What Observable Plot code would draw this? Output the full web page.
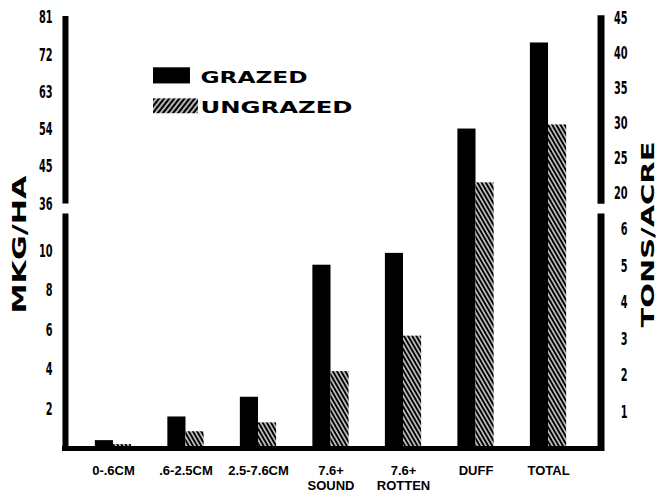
<!DOCTYPE html>
<html><head><meta charset="utf-8">
<script src="https://cdn.jsdelivr.net/npm/d3@7"></script>
<script src="https://cdn.jsdelivr.net/npm/@observablehq/plot@0.6"></script>
<style>body{margin:0;background:#fff}</style>
</head><body><div id="chart"></div>
<script>
// ---- data (MKG/HA) ----
const categories = ["0-.6CM", ".6-2.5CM", "2.5-7.6CM", "7.6+\nSOUND", "7.6+\nROTTEN", "DUFF", "TOTAL"];
const grazed   = [0.4, 1.6, 2.6, 9.3, 9.9, 54.1, 74.9];
const ungrazed = [0.2, 0.85, 1.3, 3.9, 5.7, 41.1, 55.1];
const seriesNames = ["GRAZED", "UNGRAZED"];
const leftTicksLower  = [2, 4, 6, 8, 10];
const leftTicksUpper  = [36, 45, 54, 63, 72, 81];
const rightTicksLower = [1, 2, 3, 4, 5, 6];
const rightTicksUpper = [20, 25, 30, 35, 40, 45];
// broken axis: lower segment 0..11.9, upper segment 36..81.3
const lowerSeg = [-0.15, 11.9];
const upperSeg = [36, 81.3];
// the TONS/ACRE axis as drawn against the MKG/HA axis
const tonsLowerFactor = 1.85;
const tonsUpperBase = [20, 38.66], tonsUpperFactor = 1.684;
const tonsToMkg = t => t <= 10 ? t * tonsLowerFactor : tonsUpperBase[1] + (t - tonsUpperBase[0]) * tonsUpperFactor;

// broken-axis transform (MKG/HA -> display units) feeding Plot's y scale
const brk = d3.scaleLinear().domain([0, lowerSeg[1], upperSeg[0], upperSeg[1]]).range([0, 234, 244, 431]);

const xLeftAxis = -0.662, xRightAxis = 6.724, xMin = -0.703, xMax = 6.772;
const half = 0.25;
const gData = grazed.map((v, i) => ({i, v}));
const uData = ungrazed.map((v, i) => ({i, v}));
const legendRows = [
  {name: seriesNames[0], fill: "black", x1: 0.552, x2: 1.062, y1: 65.0, y2: 68.9, ty: 66.4},
  {name: seriesNames[1], fill: "url(#hatchLegend)", x1: 0.552, x2: 1.172, y1: 57.8, y2: 61.4, ty: 59.3}
];
const wide = "'DejaVu Sans',Verdana,sans-serif";
const Y = f => (d, i) => brk(f(d, i));
const TICK_SIZE = 17.5;

const plot = Plot.plot({
  width: 660, height: 494,
  marginLeft: 62, marginRight: 56, marginTop: 16, marginBottom: 46,
  style: {background: "white", color: "black", overflow: "visible"},
  x: {domain: [xMin, xMax], axis: null},
  y: {domain: [0, brk(upperSeg[1])], axis: null},
  marks: [
    Plot.rect(gData, {x1: d => d.i - half, x2: d => d.i, y1: Y(() => 0), y2: Y(d => d.v), fill: "black"}),
    Plot.rect(uData, {x1: d => d.i, x2: d => d.i + half, y1: Y(() => 0), y2: Y(d => d.v), fill: "url(#hatchBars)"}),
    // broken axes
    Plot.ruleX([lowerSeg, upperSeg], {x: xLeftAxis, y1: Y(d => d[0]), y2: Y(d => d[1]), stroke: "black", strokeWidth: 6}),
    Plot.ruleX([[-0.15, lowerSeg[1]], [35.5, 81.5]], {x: xRightAxis, y1: Y(d => d[0]), y2: Y(d => d[1]), stroke: "black", strokeWidth: 7}),
    Plot.ruleY([0], {x1: xMin, x2: xMax, y: Y(d => d), stroke: "black", strokeWidth: 5}),
    // left tick labels
    Plot.text([...leftTicksLower, ...leftTicksUpper], {y: Y(d => d), text: d => String(d), frameAnchor: "left", dx: -10,
      textAnchor: "end", lineAnchor: "middle", fontSize: TICK_SIZE, fontWeight: "bold", fontFamily: wide}),
    // right tick labels
    Plot.text([...rightTicksLower, ...rightTicksUpper], {y: Y(d => tonsToMkg(d)), text: d => String(d), frameAnchor: "right", dx: 23,
      textAnchor: "end", lineAnchor: "middle", fontSize: TICK_SIZE, fontWeight: "bold", fontFamily: wide}),
    // category labels
    Plot.text(categories, {x: (d, i) => i, y: Y(() => 0), dy: 16, text: d => d, lineAnchor: "top", lineHeight: 1.15,
      fontSize: 13, fontWeight: "bold", fontFamily: "'Liberation Sans',Arial,sans-serif"}),
    // axis titles
    Plot.text(["MKG/HA"], {text: d => d, frameAnchor: "left", dx: -43, dy: 12, rotate: -90, textAnchor: "middle", lineAnchor: "middle",
      fontSize: 19, fontWeight: "bold", fontFamily: wide}),
    Plot.text(["TONS/ACRE"], {text: d => d, frameAnchor: "right", dx: 44, dy: 2, rotate: -90, textAnchor: "middle", lineAnchor: "middle",
      fontSize: 18.5, fontWeight: "bold", fontFamily: wide}),
    // legend
    Plot.rect(legendRows, {x1: "x1", x2: "x2", y1: Y(d => d.y1), y2: Y(d => d.y2), fill: "fill"}),
    Plot.text(legendRows, {x: 1.2, y: Y(d => d.ty), text: "name", textAnchor: "start", lineAnchor: "middle",
      fontSize: 16, fontWeight: "bold", fontFamily: wide})
  ]
});

const svg = d3.select(plot);
const defs = svg.insert("defs", ":first-child");
function hatch(id, size, angle, sw) {
  const p = defs.append("pattern").attr("id", id).attr("patternUnits", "userSpaceOnUse")
    .attr("width", size).attr("height", size).attr("patternTransform", `rotate(${angle})`);
  p.append("rect").attr("width", size).attr("height", size).attr("fill", "white");
  p.append("line").attr("x1", size / 2).attr("x2", size / 2).attr("y1", -1).attr("y2", size + 1)
    .attr("stroke", "black").attr("stroke-width", sw);
}
hatch("hatchBars", 3.6, -30, 2.3);
hatch("hatchLegend", 4, 38, 2.6);

// condense tick digits to the reference's narrow lettering
svg.selectAll("g").filter(function() { return this.getAttribute("font-size") === String(TICK_SIZE); })
  .selectAll("text").each(function() {
    d3.select(this).attr("textLength", 6.8 * this.textContent.length).attr("lengthAdjust", "spacingAndGlyphs");
  });
// stretch the wide titles and legend lettering
const lengths = {"GRAZED": 107, "UNGRAZED": 152, "MKG/HA": 138, "TONS/ACRE": 186};
svg.selectAll("text").each(function() {
  const L = lengths[this.textContent];
  if (L) d3.select(this).attr("textLength", L).attr("lengthAdjust", "spacingAndGlyphs");
});

document.getElementById("chart").appendChild(plot);
</script>
</body></html>
